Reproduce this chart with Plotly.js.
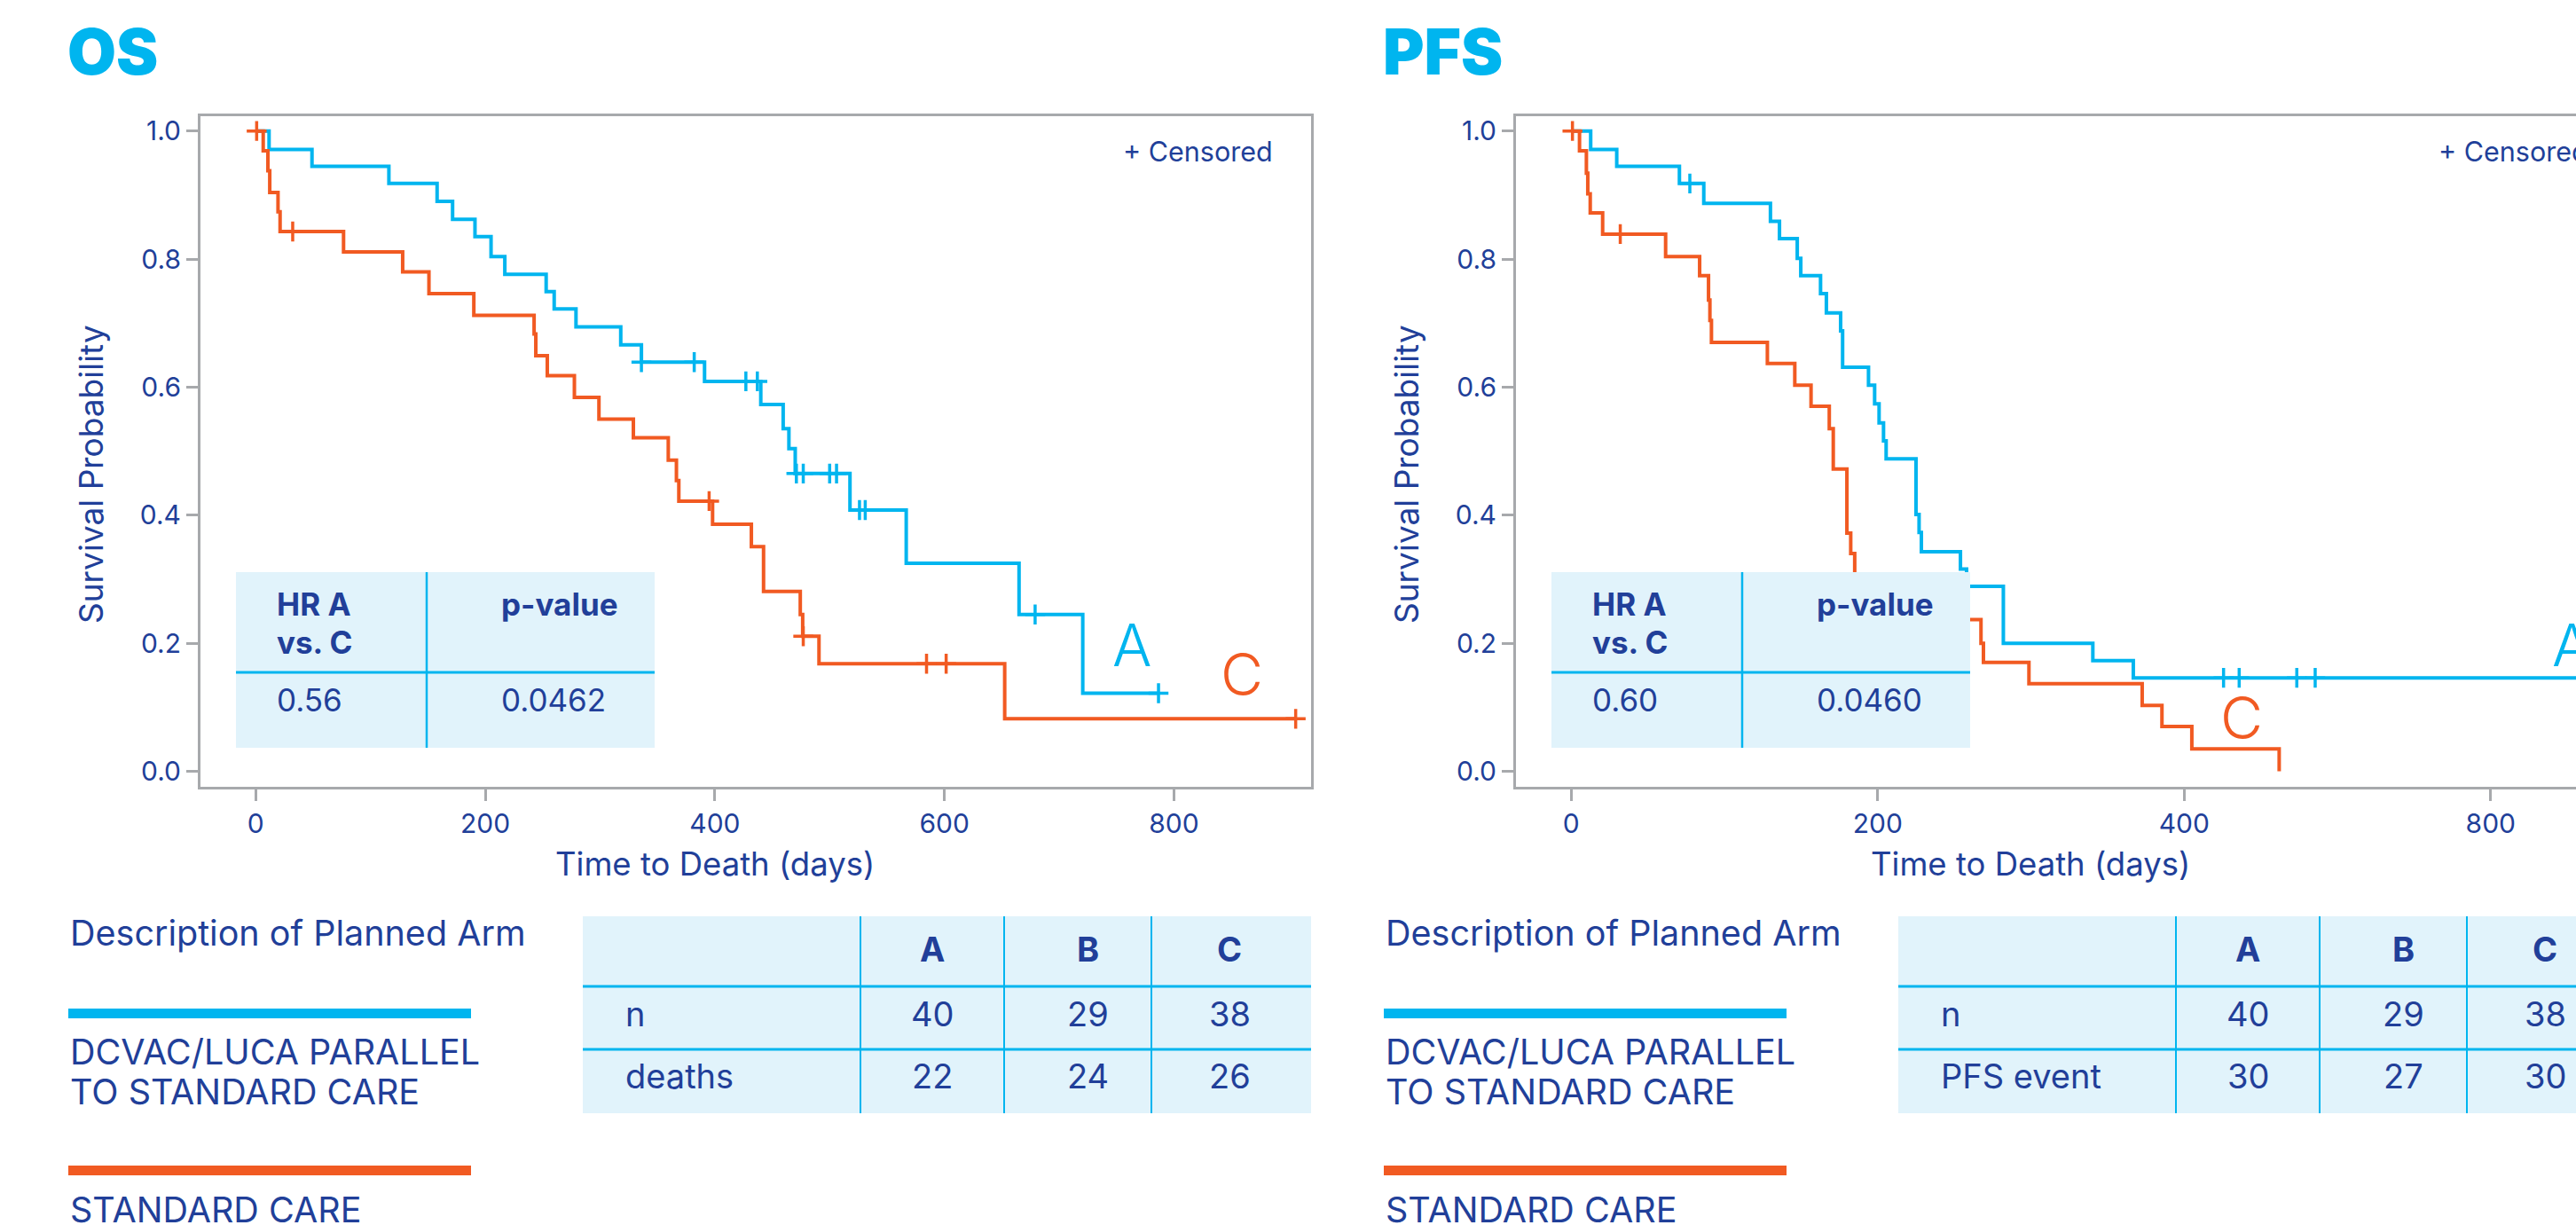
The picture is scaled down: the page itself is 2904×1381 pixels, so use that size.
<!DOCTYPE html>
<html>
<head>
<meta charset="utf-8">
<script src="https://cdn.plot.ly/plotly-3.0.1.min.js"></script>
<style>
  html, body { margin: 0; padding: 0; overflow: hidden; background: #ffffff; width: 2904px; height: 1381px; }
  #chart { width: 3000px; height: 1381px; }
</style>
</head>
<body>
<div id="chart"></div>
<script>
// ---------------- DATA ----------------
const panelTitles = ["OS", "PFS"];
const xAxisTitle = "Time to Death (days)";
const yAxisTitle = "Survival Probability";
const censoredNote = "+ Censored";
const yTickVals = [0, 0.2, 0.4, 0.6, 0.8, 1.0];
const osTickVals = [0, 200, 400, 600, 800];
const osTickText = ["0", "200", "400", "600", "800"];
const pfsTickVals = [0, 200, 400, 600];
const pfsTickText = ["0", "200", "400", "800"];

// OS, arm A (DCVAC/LUCA parallel to standard care)
const osA_time = [0, 11.6, 49, 116, 158, 171.5, 191, 205, 217, 253, 260, 279, 318, 336, 391, 440, 459.5, 464.5, 470, 517.7, 566.7, 665, 720.5, 786.5];
const osA_surv = [1, 0.971, 0.945, 0.918, 0.890, 0.862, 0.835, 0.804, 0.776, 0.749, 0.722, 0.694, 0.666, 0.639, 0.609, 0.573, 0.535, 0.504, 0.465, 0.408, 0.325, 0.245, 0.122, 0.122];
const osA_censor = [336, 382, 427, 437, 471, 477, 500, 506, 526, 531, 679, 786.5];
// OS, arm C (standard care)
const osC_time = [0, 6.5, 10.6, 12.2, 19.4, 21.2, 76.5, 128, 150.9, 190, 242.5, 244, 254, 277.6, 299, 329, 359.4, 366.5, 368.6, 398, 431.8, 442.4, 474.4, 476.5, 490.7, 652.5, 906];
const osC_surv = [1, 0.969, 0.938, 0.904, 0.874, 0.843, 0.811, 0.780, 0.746, 0.712, 0.683, 0.649, 0.618, 0.584, 0.550, 0.521, 0.486, 0.454, 0.422, 0.386, 0.351, 0.281, 0.245, 0.211, 0.168, 0.082, 0.082];
const osC_censor = [0.8, 32.2, 395, 477, 584.4, 601.5, 906];

// PFS, arm A
const pfsA_time = [0, 12.7, 29.7, 70.6, 86.5, 130, 135.9, 147.5, 149.8, 162.7, 166.5, 175.8, 177.1, 194, 198, 200.9, 203.8, 205.5, 225, 227, 228.5, 254, 258, 282, 340.4, 366.8, 668];
const pfsA_surv = [1, 0.971, 0.945, 0.918, 0.887, 0.859, 0.832, 0.801, 0.774, 0.746, 0.716, 0.688, 0.631, 0.603, 0.574, 0.544, 0.516, 0.488, 0.401, 0.373, 0.343, 0.316, 0.289, 0.200, 0.173, 0.146, 0.146];
const pfsA_censor = [77.4, 425.7, 435.9, 473.5, 485.5, 668];
// PFS, arm C
const pfsC_time = [0, 5.4, 9.9, 10.8, 12.4, 20.5, 61.6, 83.8, 89.6, 90.5, 91.5, 128, 145.9, 156.5, 168.4, 171, 179.9, 182.4, 185, 200, 267.4, 269, 298.7, 372.6, 385.5, 405, 462];
const pfsC_surv = [1, 0.969, 0.934, 0.902, 0.872, 0.839, 0.804, 0.774, 0.736, 0.704, 0.670, 0.637, 0.603, 0.570, 0.535, 0.472, 0.372, 0.340, 0.270, 0.237, 0.200, 0.170, 0.137, 0.103, 0.070, 0.035, 0];
const pfsC_censor = [0.8, 32];

// curve end labels
const osLabelPos = { A: [763, 0.197], C: [859, 0.152] };
const pfsLabelPos = { A: [652.8, 0.197], C: [437.7, 0.0845] };

// hazard ratio boxes
const hrHeader = ["HR A", "vs. C"];
const pHeader = "p-value";
const hrValues = ["0.56", "0.60"];
const pValues = ["0.0462", "0.0460"];

// arm tables
const armCols = ["A", "B", "C"];
const nLabel = "n";
const nValues = [40, 29, 38];
const eventLabels = ["deaths", "PFS event"];
const osEvents = [22, 24, 26];
const pfsEvents = [30, 27, 30];

// legend
const legendHeading = "Description of Planned Arm";
const armALines = ["DCVAC/LUCA PARALLEL", "TO STANDARD CARE"];
const armCLines = ["STANDARD CARE"];

// ---------------- STYLE ----------------
const W = 3000, H = 1381;
const DX = 1483;
const CYAN = "#00b5ef";
const ORANGE = "#f15a22";
const NAVY = "#213f99";
const GRAY = "#a7a9ac";
const LIGHT = "#e1f3fb";
const FONT = "Inter, 'Noto Sans', sans-serif";
const X = v => v / W;
const Y = v => 1 - v / H;

function stepAt(times, surv, t) {
  let v = surv[0];
  for (let i = 0; i < times.length; i++) { if (times[i] <= t) v = surv[i]; }
  return v;
}

const panels = [
  { A: [osA_time, osA_surv, osA_censor], C: [osC_time, osC_surv, osC_censor], labels: osLabelPos, xa: "x", ya: "y",
    events: osEvents, eventLabel: eventLabels[0] },
  { A: [pfsA_time, pfsA_surv, pfsA_censor], C: [pfsC_time, pfsC_surv, pfsC_censor], labels: pfsLabelPos, xa: "x2", ya: "y2",
    events: pfsEvents, eventLabel: eventLabels[1] }
];

const traces = [];
const shapes = [];
const annotations = [];

function ann(text, x, y, opts) {
  annotations.push(Object.assign({
    text: text, x: X(x), y: Y(y), xref: "paper", yref: "paper",
    showarrow: false, xanchor: "left", yanchor: "middle",
    font: { family: FONT, size: 30, color: NAVY }
  }, opts || {}));
}
function rect(x0, y0, x1, y1, fill, layer) {
  shapes.push({ type: "rect", xref: "paper", yref: "paper", x0: X(x0), x1: X(x1), y0: Y(y1), y1: Y(y0),
    fillcolor: fill, line: { width: 0 }, layer: layer || "above" });
}
function line(x0, y0, x1, y1, color, w) {
  shapes.push({ type: "line", xref: "paper", yref: "paper", x0: X(x0), x1: X(x1), y0: Y(y0), y1: Y(y1),
    line: { color: color, width: w }, layer: "above" });
}

const BODY = 39.5;

panels.forEach((p, i) => {
  const dx = i * DX;
  [["A", CYAN], ["C", ORANGE]].forEach(([arm, col]) => {
    const [t, s, c] = p[arm];
    traces.push({ type: "scatter", mode: "lines", x: t, y: s, xaxis: p.xa, yaxis: p.ya,
      line: { shape: "hv", color: col, width: 4 }, hoverinfo: "skip", showlegend: false });
    traces.push({ type: "scatter", mode: "markers", x: c, y: c.map(v => stepAt(t, s, v)), xaxis: p.xa, yaxis: p.ya,
      marker: { symbol: "cross-thin", size: 16, color: col, line: { color: col, width: 3.5 } },
      hoverinfo: "skip", showlegend: false });
    annotations.push({ text: arm, x: p.labels[arm][0], y: p.labels[arm][1], xref: p.xa, yref: p.ya,
      showarrow: false, xanchor: "center", yanchor: "middle",
      font: { family: FONT, size: 66, color: col, weight: 300 } });
  });

  // panel title
  ann(panelTitles[i], 74 + dx, 58, { font: { family: FONT, size: 71, color: CYAN, weight: 900 } });
  // censored note
  ann(censoredNote, 1437 + dx, 170, { xanchor: "right", font: { family: FONT, size: 30.5, color: NAVY } });
  // axis titles
  ann(yAxisTitle, 102 + dx, 535, { xanchor: "center", textangle: -90, font: { family: FONT, size: 37, color: NAVY } });
  ann(xAxisTitle, 806 + dx, 974, { xanchor: "center", font: { family: FONT, size: 36.5, color: NAVY } });

  // HR box
  rect(266 + dx, 645, 738 + dx, 843, LIGHT, "above");
  line(481 + dx, 645, 481 + dx, 843, CYAN, 2.5);
  line(266 + dx, 758, 738 + dx, 758, CYAN, 2.8);
  ann(hrHeader[0], 310 + dx, 680.5, { font: { family: FONT, size: 35, color: NAVY, weight: 700 } });
  ann(hrHeader[1], 310 + dx, 724.4, { font: { family: FONT, size: 35, color: NAVY, weight: 700 } });
  ann(pHeader, 563 + dx, 680.5, { font: { family: FONT, size: 35, color: NAVY, weight: 700 } });
  ann(hrValues[i], 310 + dx, 789, { font: { family: FONT, size: 35, color: NAVY } });
  ann(pValues[i], 563 + dx, 789, { font: { family: FONT, size: 35, color: NAVY } });

  // legend
  ann(legendHeading, 77 + dx, 1051.5, { font: { family: FONT, size: BODY, color: NAVY } });
  rect(77 + dx, 1137, 531 + dx, 1148, CYAN, "below");
  armALines.forEach((t, k) => ann(t, 77 + dx, 1185.5 + 45 * k, { font: { family: FONT, size: BODY, color: NAVY } }));
  rect(77 + dx, 1314, 531 + dx, 1325, ORANGE, "below");
  armCLines.forEach((t, k) => ann(t, 77 + dx, 1364 + 45 * k, { font: { family: FONT, size: BODY, color: NAVY } }));

  // arm table
  rect(657 + dx, 1033, 1478 + dx, 1255, LIGHT, "below");
  [970, 1132, 1298].forEach(v => line(v + dx, 1033, v + dx, 1255, CYAN, 2));
  [1112, 1183].forEach(v => line(657 + dx, v, 1478 + dx, v, CYAN, 3));
  const colX = [1051, 1226, 1386];
  armCols.forEach((c, k) => ann(c, colX[k] + dx, 1070, { xanchor: "center", font: { family: FONT, size: 38, color: NAVY, weight: 700 } }));
  ann(nLabel, 703 + dx, 1142.7, { font: { family: FONT, size: 38, color: NAVY } });
  ann(p.eventLabel, 703 + dx, 1213.3, { font: { family: FONT, size: 38, color: NAVY } });
  nValues.forEach((v, k) => ann(String(v), colX[k] + dx, 1142.7, { xanchor: "center", font: { family: FONT, size: 38, color: NAVY } }));
  p.events.forEach((v, k) => ann(String(v), colX[k] + dx, 1213.3, { xanchor: "center", font: { family: FONT, size: 38, color: NAVY } }));
});

const axisCommon = {
  showline: true, linecolor: GRAY, linewidth: 3, mirror: true,
  ticks: "outside", ticklen: 13, tickwidth: 3, tickcolor: GRAY,
  showgrid: false, zeroline: false,
  tickfont: { family: FONT, size: 30, color: NAVY }
};

const yDomain = [Y(887), Y(131)];
const layout = {
  width: W, height: H,
  margin: { l: 0, r: 0, t: 0, b: 0, pad: 0 },
  paper_bgcolor: "#ffffff", plot_bgcolor: "#ffffff",
  showlegend: false,
  xaxis: Object.assign({}, axisCommon, { domain: [X(226), X(1478)], range: [-48.15, 919.4], anchor: "y",
    tickvals: osTickVals, ticktext: osTickText }),
  yaxis: Object.assign({}, axisCommon, { domain: yDomain, range: [-0.0242, 1.0231], anchor: "x",
    tickvals: yTickVals, tickformat: ".1f" }),
  xaxis2: Object.assign({}, axisCommon, { domain: [X(1709), X(2961)], range: [-36.06, 688.7], anchor: "y2",
    tickvals: pfsTickVals, ticktext: pfsTickText }),
  yaxis2: Object.assign({}, axisCommon, { domain: yDomain, range: [-0.0242, 1.0231], anchor: "x2",
    tickvals: yTickVals, tickformat: ".1f" }),
  shapes: shapes,
  annotations: annotations
};

Plotly.newPlot("chart", traces, layout, { displayModeBar: false, staticPlot: true });
</script>
</body>
</html>
